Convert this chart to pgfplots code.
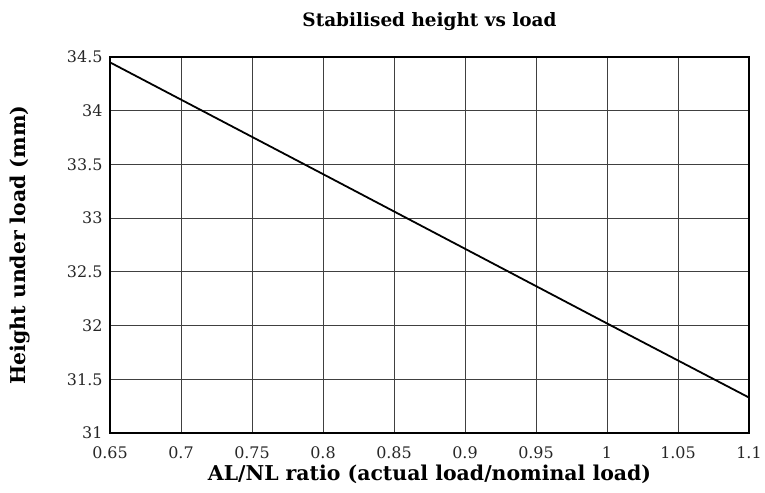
\documentclass[border=0pt]{standalone}
\usepackage{fontspec}
\setmainfont{DejaVu Serif}
\usepackage{pgfplots}
\pgfplotsset{compat=1.18}

\begin{document}
\begin{tikzpicture}
\begin{axis}[
    name=main,
    scale only axis,
    width=639bp, height=376bp,
    xmin=0.65, xmax=1.1,
    ymin=31, ymax=34.5,
    xtick={0.65,0.7,...,1.1},
    ytick={31,31.5,...,34.5},
    xticklabels={0.65,0.7,0.75,0.8,0.85,0.9,0.95,1,1.05,1.1},
    yticklabels={31,31.5,32,32.5,33,33.5,34,34.5},
    /pgf/number format/assume math mode=true,
    major tick length=0pt,
    grid=major,
    grid style={black!75, line width=0.8pt},
    axis line style={line width=1.6pt},
    tick label style={font=\fontsize{16}{18}\selectfont, text=black!85},
    xticklabel style={yshift=-10bp},
    yticklabel style={xshift=-4bp},
    title={\textbf{Stabilised height vs load}},
    title style={font=\fontsize{18.5}{20}\selectfont, at={(axis description cs:0.5,1)}, anchor=center, yshift=29bp},
    xlabel={\textbf{AL/NL ratio (actual load/nominal load)}},
    ylabel={\textbf{Height under load (mm)}},
    label style={font=\fontsize{20.5}{22}\selectfont},
    xlabel style={at={(axis description cs:0.5,0)}, anchor=center, yshift=-41bp},
    ylabel style={at={(axis description cs:0,0.5)}, anchor=center, yshift=90bp},
]
\addplot[black, line width=1.8pt] coordinates {
    (0.65, 34.45) (0.80, 33.41) (1.00, 32.02) (1.10, 31.33)
};
\end{axis}
\useasboundingbox ([xshift=-110bp,yshift=-60bp]main.south west) rectangle ([xshift=16bp,yshift=57bp]main.north east);
\end{tikzpicture}
\end{document}
